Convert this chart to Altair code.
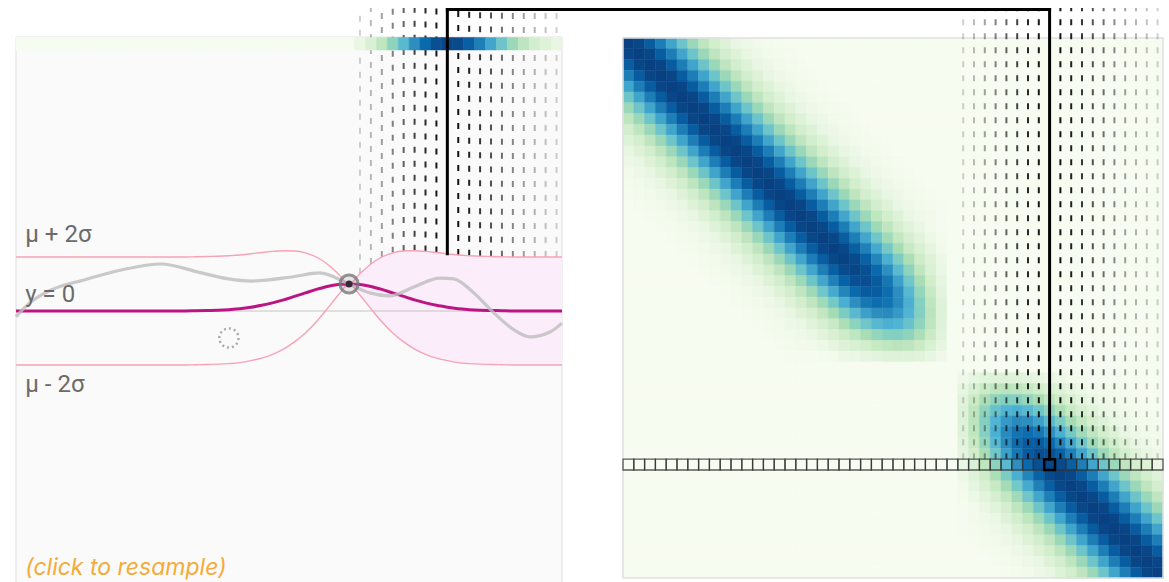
import math
import altair as alt
import pandas as pd

# ---------------- layout (pixels) ----------------
LEFT_W = 546          # GP panel width
RIGHT_W = 540         # covariance matrix width
GAP = 61              # space between the two panels
VIEW_H = 574          # both views start at the connector line at the top
HEAT_TOP = 30         # matrix starts this far below the view top
PANEL_TOP = 29        # GP panel box starts this far below the view top
PX_PER_UNIT = 27.0    # vertical pixels per unit of y in the GP panel
ZERO_FROM_TOP = 303   # pixel row of y = 0 inside the GP view

# ---------------- data ----------------
N = 50                # grid points / matrix size
OBS_INDEX = 30        # index of the observed point
OBS_VALUE = 1.0       # observed value
FOCUS = 39            # highlighted row / column

# prior correlation as a function of index distance
corr_by_lag = [1.00, 0.98, 0.91, 0.80, 0.67, 0.54, 0.41, 0.30, 0.21, 0.14,
               0.08, 0.05, 0.03, 0.02, 0.01]

# a posterior sample drawn through the observation
sample_x = [0.0, 1.38, 3.21, 6.24, 9.63, 13.30, 16.70, 19.45, 21.56, 25.23,
            27.80, 30.5, 32.39, 34.22, 36.42, 38.81, 40.09, 41.93, 43.76,
            45.60, 47.06, 48.90, 50.0]
sample_y = [-0.21, 0.34, 0.78, 1.15, 1.52, 1.74, 1.44, 1.19, 1.11, 1.26,
            1.41, 1.00, 0.67, 0.56, 0.89, 1.22, 1.19, 0.67, -0.07,
            -0.70, -0.96, -0.78, -0.45]

# candidate point shown as a dotted circle
ghost_x = [19.5]
ghost_y = [-1.0]

label_text = ["μ + 2σ", "y = 0", "μ - 2σ"]
label_y = [2.0, 0.0, -2.0]
label_dy = [-15, -9, 27]
hint_text = "(click to resample)"

gnbu = ["#f7fcf0", "#e0f3db", "#ccebc5", "#a8ddb5", "#7bccc4",
        "#4eb3d3", "#2b8cbe", "#0868ac", "#084081"]


def corr(d):
    d = abs(d)
    return corr_by_lag[d] if d < len(corr_by_lag) else 0.0


def post_cov(i, j):
    return corr(i - j) - corr(i - OBS_INDEX) * corr(j - OBS_INDEX)


rows = []
for j in range(N):
    k = corr(j - OBS_INDEX)
    mean = OBS_VALUE * k
    sd = math.sqrt(max(0.0, 1.0 - k * k))
    rows.append(dict(col=j, x=j + 0.5, x0=float(j), x1=float(j + 1),
                     mean=mean, upper=mean + 2 * sd, lower=mean - 2 * sd,
                     cov=post_cov(FOCUS, j), stop=float(FOCUS)))
cols = pd.DataFrame(rows)
edges = pd.concat([cols.iloc[[0]].assign(x=0.0), cols,
                   cols.iloc[[-1]].assign(x=float(N))], ignore_index=True)
band_right = edges[edges.x >= OBS_INDEX + 0.5]
dashes = cols[(cols["cov"] > 0.02) & (cols["col"] != FOCUS)]
focus = cols[cols["col"] == FOCUS]
sample = pd.DataFrame({"x": sample_x, "y": sample_y})
obs = pd.DataFrame({"x": [OBS_INDEX + 0.5], "y": [OBS_VALUE]})
ghost = pd.DataFrame({"x": ghost_x, "y": ghost_y})
heat = pd.DataFrame([dict(c=float(j), c2=float(j + 1), r=float(i),
                          r2=float(i + 1), v=post_cov(i, j))
                     for i in range(N) for j in range(N)])
focus_row = heat[heat.r == FOCUS]

# ---------------- scales ----------------
xs = alt.Scale(domain=[0, N], nice=False, zero=False)
y_top = ZERO_FROM_TOP / PX_PER_UNIT
y_bot = -(VIEW_H - ZERO_FROM_TOP) / PX_PER_UNIT
ys_left = alt.Scale(domain=[y_bot, y_top], nice=False, zero=False)
cell = RIGHT_W / N
ys_right = alt.Scale(domain=[-HEAT_TOP / cell, (VIEW_H - HEAT_TOP) / cell],
                     reverse=True, nice=False, zero=False)
cscale = alt.Scale(domain=[i / 8 for i in range(9)], range=gnbu,
                   clamp=True, interpolate="rgb")
oscale = alt.Scale(domain=[0, 1], range=[0.12, 0.95], clamp=True)

LABEL_FONT = "Roboto"
HINT_FONT = "Inter"
BORDER = "#e4e4e4"

# ---------------- left panel: GP posterior ----------------
one = cols.iloc[[0]]
panel = alt.Chart(one).mark_rect(fill="#fafafa").encode(
    x=alt.value(0), x2=alt.value(LEFT_W),
    y=alt.value(PANEL_TOP), y2=alt.value(VIEW_H))
panel_top = alt.Chart(one).mark_rule(color=BORDER, strokeWidth=1.2).encode(
    x=alt.value(0), x2=alt.value(LEFT_W), y=alt.value(PANEL_TOP))
panel_l = alt.Chart(one).mark_rule(color=BORDER, strokeWidth=1.2).encode(
    x=alt.value(0), y=alt.value(PANEL_TOP), y2=alt.value(VIEW_H))
panel_r = alt.Chart(one).mark_rule(color=BORDER, strokeWidth=1.2).encode(
    x=alt.value(LEFT_W), y=alt.value(PANEL_TOP), y2=alt.value(VIEW_H))

band_fill = alt.Chart(band_right).mark_area(
    color="#fbedfa", interpolate="monotone"
).encode(x=alt.X("x:Q", scale=xs, axis=None),
         y=alt.Y("upper:Q", scale=ys_left, axis=None),
         y2="lower:Q")

dash_left = alt.Chart(dashes).mark_rule(
    color="black", strokeWidth=2, strokeDash=[6, 8]
).encode(x=alt.X("x:Q", scale=xs, axis=None),
         y=alt.Y("upper:Q", scale=ys_left, axis=None),
         y2=alt.value(0),
         opacity=alt.Opacity("cov:Q", scale=oscale, legend=None))

colorbar = alt.Chart(cols).mark_rect().encode(
    x=alt.X("x0:Q", scale=xs, axis=None), x2="x1:Q",
    y=alt.value(PANEL_TOP + 0.5), y2=alt.value(PANEL_TOP + 13),
    color=alt.Color("cov:Q", scale=cscale, legend=None),
    stroke=alt.Stroke("cov:Q", scale=cscale, legend=None),
    strokeWidth=alt.value(0.5))

zero_line = alt.Chart(one).mark_rule(
    color="#c4c4c4", strokeWidth=1.2
).encode(x=alt.value(0), x2=alt.value(LEFT_W),
         y=alt.Y("zero:Q", scale=ys_left, axis=None)).transform_calculate(zero="0")

upper_line = alt.Chart(edges).mark_line(
    color="#f7a2b6", strokeWidth=1.4, interpolate="monotone"
).encode(x=alt.X("x:Q", scale=xs, axis=None),
         y=alt.Y("upper:Q", scale=ys_left, axis=None))
lower_line = alt.Chart(edges).mark_line(
    color="#f7a2b6", strokeWidth=1.4, interpolate="monotone"
).encode(x=alt.X("x:Q", scale=xs, axis=None),
         y=alt.Y("lower:Q", scale=ys_left, axis=None))
mean_line = alt.Chart(edges).mark_line(
    color="#bb1584", strokeWidth=3, interpolate="monotone"
).encode(x=alt.X("x:Q", scale=xs, axis=None),
         y=alt.Y("mean:Q", scale=ys_left, axis=None))
sample_line = alt.Chart(sample).mark_line(
    color="#bdbdbd", strokeWidth=3.2, opacity=0.8, interpolate="monotone"
).encode(x=alt.X("x:Q", scale=xs, axis=None),
         y=alt.Y("y:Q", scale=ys_left, axis=None))

# connector from the highlighted column up and across to the matrix
conn_v_left = alt.Chart(focus).mark_rule(
    color="black", strokeWidth=3, strokeCap="square"
).encode(x=alt.X("x:Q", scale=xs, axis=None),
         y=alt.Y("upper:Q", scale=ys_left, axis=None), y2=alt.value(1.5))
conn_h = alt.Chart(focus).mark_rule(
    color="black", strokeWidth=3, strokeCap="square"
).encode(x=alt.X("x:Q", scale=xs, axis=None),
         x2=alt.value(LEFT_W + GAP + (FOCUS + 0.5) * cell),
         y=alt.value(1.5))

ghost_pt = alt.Chart(ghost).mark_point(
    shape="circle", size=370, filled=False, color="#8a8a8a",
    strokeWidth=2.5, strokeDash=[2, 3]
).encode(x=alt.X("x:Q", scale=xs, axis=None),
         y=alt.Y("y:Q", scale=ys_left, axis=None))
obs_halo = alt.Chart(obs).mark_circle(size=330, color="#8a8a8a", opacity=0.18).encode(
    x=alt.X("x:Q", scale=xs, axis=None), y=alt.Y("y:Q", scale=ys_left, axis=None))
obs_ring = alt.Chart(obs).mark_point(
    shape="circle", size=330, filled=False, color="#7a7a7a",
    strokeWidth=3, opacity=0.8
).encode(x=alt.X("x:Q", scale=xs, axis=None),
         y=alt.Y("y:Q", scale=ys_left, axis=None))
obs_dot = alt.Chart(obs).mark_circle(size=50, color="#3b2836", opacity=1).encode(
    x=alt.X("x:Q", scale=xs, axis=None), y=alt.Y("y:Q", scale=ys_left, axis=None))

labels = []
for t, yv, dy in zip(label_text, label_y, label_dy):
    lab = pd.DataFrame({"t": [t], "x": [0.85], "y": [yv]})
    labels.append(alt.Chart(lab).mark_text(
        align="left", baseline="alphabetic", dy=dy, font=LABEL_FONT,
        fontSize=24, color="#6b6b6b"
    ).encode(x=alt.X("x:Q", scale=xs, axis=None),
             y=alt.Y("y:Q", scale=ys_left, axis=None), text="t:N"))

hint = alt.Chart(pd.DataFrame({"t": [hint_text], "x": [0.85]})).mark_text(
    align="left", baseline="alphabetic", font=HINT_FONT, fontSize=23,
    fontStyle="italic", color="#f5ab38"
).encode(x=alt.X("x:Q", scale=xs, axis=None),
         y=alt.value(567), text="t:N")

left = alt.layer(
    panel, panel_top, panel_l, panel_r, band_fill, dash_left, colorbar,
    zero_line, upper_line, lower_line, mean_line, sample_line,
    conn_v_left, conn_h, ghost_pt, obs_halo, obs_ring, obs_dot,
    *labels, hint
).properties(width=LEFT_W, height=VIEW_H)

# ---------------- right panel: posterior covariance matrix ----------------
heatmap = alt.Chart(heat).mark_rect().encode(
    x=alt.X("c:Q", scale=xs, axis=None), x2="c2:Q",
    y=alt.Y("r:Q", scale=ys_right, axis=None), y2="r2:Q",
    color=alt.Color("v:Q", scale=cscale, legend=None),
    stroke=alt.Stroke("v:Q", scale=cscale, legend=None),
    strokeWidth=alt.value(0.5))

frame = alt.Chart(pd.DataFrame({"a": [0.0], "b": [float(N)]})).mark_rect(
    filled=False, stroke="#e0e0e0", strokeWidth=1.5
).encode(x=alt.X("a:Q", scale=xs, axis=None), x2="b:Q",
         y=alt.Y("a:Q", scale=ys_right, axis=None), y2="b:Q")

dash_right = alt.Chart(dashes).mark_rule(
    color="black", strokeWidth=2, strokeDash=[6, 8]
).encode(x=alt.X("x:Q", scale=xs, axis=None),
         y=alt.Y("stop:Q", scale=ys_right, axis=None),
         y2=alt.value(0),
         opacity=alt.Opacity("cov:Q", scale=oscale, legend=None))

row_cells = alt.Chart(focus_row).mark_rect(
    filled=False, stroke="#333333", strokeWidth=1.3, opacity=0.8
).encode(x=alt.X("c:Q", scale=xs, axis=None), x2="c2:Q",
         y=alt.Y("r:Q", scale=ys_right, axis=None), y2="r2:Q")
focus_cell = alt.Chart(focus_row[focus_row.c == FOCUS]).mark_rect(
    filled=False, stroke="black", strokeWidth=2.5
).encode(x=alt.X("c:Q", scale=xs, axis=None), x2="c2:Q",
         y=alt.Y("r:Q", scale=ys_right, axis=None), y2="r2:Q")

conn_v_right = alt.Chart(focus).mark_rule(
    color="black", strokeWidth=3, strokeCap="square"
).encode(x=alt.X("x:Q", scale=xs, axis=None),
         y=alt.Y("stop:Q", scale=ys_right, axis=None), y2=alt.value(1.5))

right = alt.layer(
    heatmap, frame, dash_right, row_cells, focus_cell, conn_v_right
).properties(width=RIGHT_W, height=VIEW_H)

chart = alt.hconcat(left, right, spacing=GAP, bounds="flush").configure_view(
    stroke=None
).properties(
    padding={"left": 9, "top": 7, "right": 0, "bottom": 0},
    background="white",
)

chart.save("out.html", embed_options={"renderer": "svg", "actions": False})
